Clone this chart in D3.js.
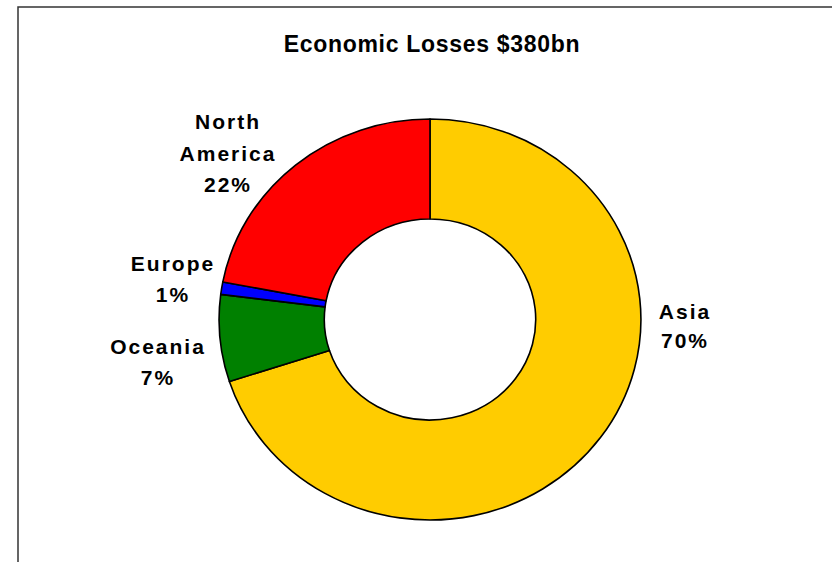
<!DOCTYPE html>
<html>
<head>
<meta charset="utf-8">
<script src="https://cdn.jsdelivr.net/npm/d3@7"></script>
<style>
  html, body { margin: 0; padding: 0; background: #fff; }
  svg { display: block; }
  text { font-family: "Liberation Sans", Arial, sans-serif; font-weight: bold; fill: #000; }
</style>
</head>
<body>
<svg id="chart" width="832" height="562"></svg>
<script>
// ---- data ----
const title = "Economic Losses $380bn";
const regions = ["Asia", "Oceania", "Europe", "North America"];
const shares = [70, 7, 1, 22];               // percent of losses
const labelLines = [["Asia", "70%"], ["Oceania", "7%"], ["Europe", "1%"], ["North", "America", "22%"]];

// ---- layout / style (kept apart from data) ----
const colors = ["#FFCC00", "#008000", "#0000FF", "#FF0000"];
const labelPos = [[685, 319], [158, 354], [173, 271], [228, 129]]; // first-line baseline anchors
const lineGap = [29, 31, 31, 31.5];
const cx = 430, cy = 319.5, rOuter = 200.5, rInner = 100.5, xStretch = 1.052;

const svg = d3.select("#chart");

// frame
svg.append("rect")
  .attr("x", 18).attr("y", 7).attr("width", 900).attr("height", 700)
  .attr("fill", "none").attr("stroke", "#333").attr("stroke-width", 1.5);

// title
svg.append("text")
  .attr("x", 432).attr("y", 52)
  .attr("text-anchor", "middle")
  .style("font-size", "23px")
  .style("letter-spacing", "0.7px")
  .text(title);

const pie = d3.pie().sort(null).value(d => d)(shares);
const arc = d3.arc().innerRadius(rInner).outerRadius(rOuter);

const g = svg.append("g")
  .attr("transform", `translate(${cx},${cy}) scale(${xStretch},1)`);

g.selectAll("path").data(pie).join("path")
  .attr("d", arc)
  .attr("fill", (d, i) => colors[i])
  .attr("stroke", "#000")
  .attr("stroke-width", 1.6)
  .attr("vector-effect", "non-scaling-stroke")
  .attr("stroke-linejoin", "round");

// labels
const lg = svg.append("g");
labelLines.forEach((lines, i) => {
  const t = lg.append("text")
    .attr("text-anchor", "middle")
    .style("font-size", "21px")
    .style("letter-spacing", "2px");
  lines.forEach((ln, j) => {
    t.append("tspan")
      .attr("x", labelPos[i][0])
      .attr("y", labelPos[i][1] + j * lineGap[i])
      .text(ln);
  });
});
</script>
</body>
</html>
